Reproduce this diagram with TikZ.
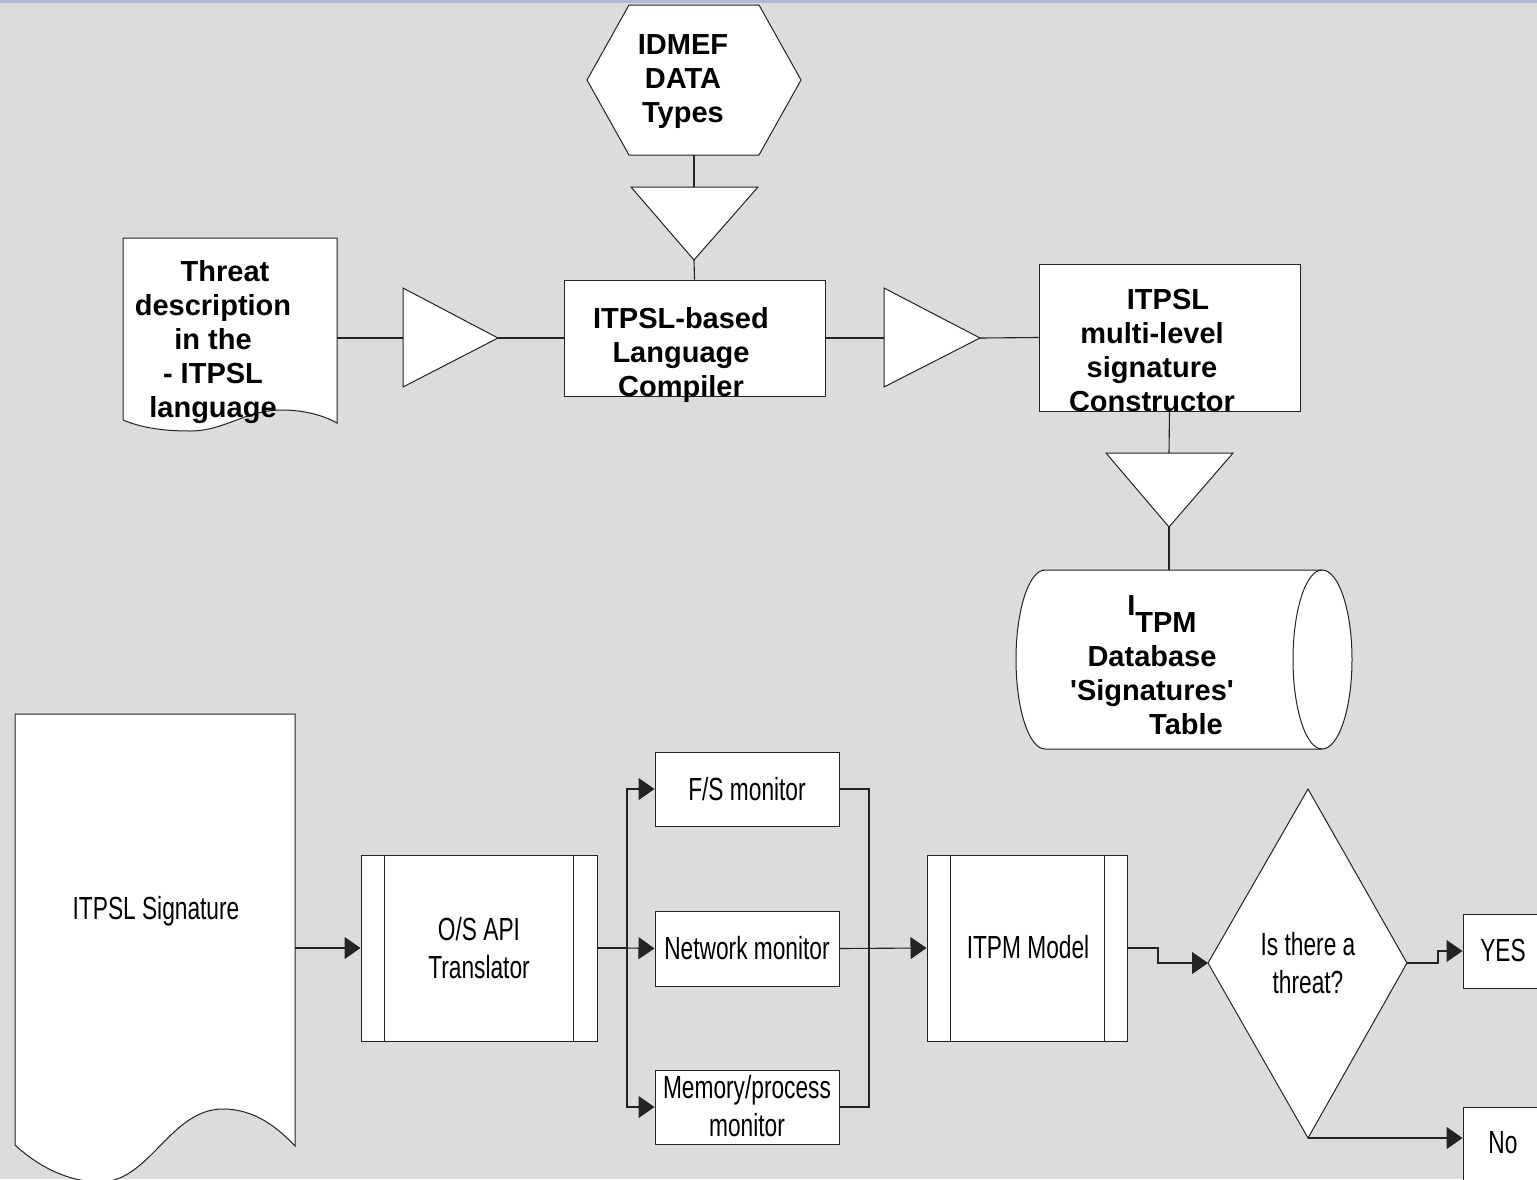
\documentclass[tikz,border=0pt]{standalone}
\usepackage{fontspec}
\setmainfont{Liberation Sans}
\newfontfamily\narrowfont[FakeStretch=0.71]{Liberation Sans}
\usetikzlibrary{arrows.meta,fit}

\definecolor{bgcol}{RGB}{220,220,220}
\definecolor{stripcol}{RGB}{180,184,212}
\definecolor{ink}{RGB}{35,35,35}

\begin{document}
\begin{tikzpicture}[x=0.5pt,y=-0.5pt,
  conn/.style={draw=ink, line width=0.55pt},
  flow/.style={conn, -{Triangle[length=8pt,width=11pt]}},
  shapeline/.style={fill=white, draw=ink, line width=0.5pt},
  box/.style={shapeline, rectangle, inner sep=0pt},
  boldtxt/.style={font=\fontsize{14.5pt}{17pt}\selectfont\bfseries, align=center, inner sep=0pt},
  narrowtxt/.style={font=\narrowfont\fontsize{16pt}{19pt}\selectfont, align=center, inner sep=0pt},
]
\clip (0,0) rectangle (1537,1179);
\fill[bgcol] (0,0) rectangle (1537,1179);
\fill[stripcol] (0,0) rectangle (1537,2.5);

% ---------- upper part: signature compilation ----------
% data types (hexagon)
\path[shapeline] (629,5) -- (759,5) -- (801,80) -- (759,155) -- (629,155) -- (587,80) -- cycle;
\coordinate (hexS) at (694,155);

% merge triangles
\path[shapeline] (631,187) -- (758,187) -- (694,260) -- cycle;
\coordinate (t1N) at (694,187);
\coordinate (t1S) at (694,260);
\path[shapeline] (403,288) -- (498,338) -- (403,387) -- cycle;
\coordinate (t2W) at (403,338);
\coordinate (t2E) at (498,338);
\path[shapeline] (884,288) -- (980,338) -- (884,387) -- cycle;
\coordinate (t3W) at (884,338);
\coordinate (t3E) at (980,338);
\path[shapeline] (1106,453) -- (1233,453) -- (1169,527) -- cycle;
\coordinate (t4N) at (1169,453);
\coordinate (t4S) at (1169,527);

% threat description document
\path[shapeline] (123,238) -- (337,238) -- (337,423)
  .. controls (325,416) and (305,410) .. (282,410)
  .. controls (245,410) and (225,431) .. (190,431)
  .. controls (160,431) and (140,427) .. (123,420) -- cycle;
\coordinate (docR) at (337,338);

% compiler and constructor
\node[box, fit={(564,280) (825,396)}] (comp) {};
\node[box, fit={(1039,264) (1300,411)}] (cons) {};

% signatures table (stored data)
\path[shapeline] (1045,570) -- (1322,570)
  arc[start angle=-90, end angle=90, x radius=30, y radius=89.5]
  -- (1045,749)
  arc[start angle=90, end angle=270, x radius=29, y radius=89.5] -- cycle;
\draw[draw=ink, line width=0.5pt] (1322,570)
  arc[start angle=-90, end angle=-270, x radius=29, y radius=89.5];
\coordinate (dbN) at (1169,570);

% upper connectors
\draw[conn] (hexS) -- (t1N);
\draw[conn] (t1S) -- (comp.north);
\draw[conn] (docR) -- (t2W);
\draw[conn] (t2E) -- (comp.west);
\draw[conn] (comp.east) -- (t3W);
\draw[conn] (t3E) -- (cons.west);
\draw[conn] (cons.south) -- (t4N);
\draw[conn] (t4S) -- (dbN);

% upper labels
\node[boldtxt, anchor=north] (hexlbl) at (683,34) {IDMEF\\DATA\\Types};
\node[boldtxt, anchor=north] (doclbl) at (213,260) {\hspace*{12pt}Threat\\description\\in the\hspace*{7pt}\\- ITPSL\\language};
\node[boldtxt, anchor=north] (complbl) at (681,307) {ITPSL-based\\Language\\Compiler};
\node[boldtxt, anchor=north] (conslbl) at (1152,289) {\hspace*{16pt}ITPSL\\multi-level\\signature\\Constructor};
\node[boldtxt, anchor=north] (dblbl) at (1152,595) {\hspace*{10pt}\raisebox{8.5pt}{I}TPM\\Database\\\textquotesingle Signatures\textquotesingle\\\hspace*{34pt}Table};

% ---------- lower part: monitoring flow ----------
% signature document
\path[shapeline] (15,714) -- (295,714) -- (295,1146)
  .. controls (278,1128) and (255,1109) .. (223,1109)
  .. controls (170,1109) and (150,1182) .. (100,1182)
  .. controls (70,1182) and (40,1168) .. (15,1145) -- cycle;
\coordinate (sigR) at (295,948);
\node[narrowtxt] (siglbl) at (156,911) {ITPSL Signature};

% O/S API translator (predefined process)
\node[box, fit={(361,855) (597,1041)}] (os) {};
\draw[draw=ink, line width=0.5pt] ([xshift=12pt]os.north west) -- ([xshift=12pt]os.south west);
\draw[draw=ink, line width=0.5pt] ([xshift=-12pt]os.north east) -- ([xshift=-12pt]os.south east);
\node[narrowtxt] (oslbl) at (479,948) {O/S API\\Translator};

% monitors
\node[box, fit={(655,752) (839,826)}] (fs) {};
\node[narrowtxt] (fslbl) at (fs.center) {F/S monitor};
\node[box, fit={(655,911) (839,986)}] (net) {};
\node[narrowtxt] (netlbl) at (net.center) {Network monitor};
\node[box, fit={(655,1070) (839,1144)}] (mem) {};
\node[narrowtxt] (memlbl) at (747,1106) {Memory/process\\monitor};

% ITPM model (predefined process)
\node[box, fit={(927,855) (1127,1041)}] (itpm) {};
\draw[draw=ink, line width=0.5pt] ([xshift=12pt]itpm.north west) -- ([xshift=12pt]itpm.south west);
\draw[draw=ink, line width=0.5pt] ([xshift=-11.5pt]itpm.north east) -- ([xshift=-11.5pt]itpm.south east);
\node[narrowtxt] (itpmlbl) at (1028,947) {ITPM Model};

% decision
\path[shapeline] (1308,789) -- (1407,963) -- (1308,1138) -- (1208,963) -- cycle;
\coordinate (dW) at (1208,963);
\coordinate (dE) at (1407,963);
\coordinate (dS) at (1308,1138);
\node[narrowtxt] (dlbl) at (1308,963) {Is there a\\threat?};

% outcomes
\node[box, fit={(1463,914) (1545,988)}] (yes) {};
\node[narrowtxt] (yeslbl) at (1503,950) {YES};
\node[box, fit={(1463,1107) (1545,1190)}] (no) {};
\node[narrowtxt] (nolbl) at (1503,1143) {No};

% lower connectors
\coordinate (split) at (627,948);
\coordinate (join) at (869,948);
\coordinate (k1) at (1158,948);
\coordinate (k2) at (1438,963);
\draw[flow] (sigR) -- (os.west);
\draw[conn] (os.east) -- (split);
\draw[flow] (split) -- (net.west);
\draw[flow] (split) |- (fs.west);
\draw[flow] (split) |- (mem.west);
\draw[conn] (fs.east) -| (join);
\draw[conn] (mem.east) -| (join);
\draw[flow] (net.east) -- (itpm.west);
\draw[flow] (itpm.east) -- (k1) |- (dW);
\draw[flow] (dE) -- (k2) |- (yes.west);
\draw[flow] (dS) -- (dS -| no.west);
\end{tikzpicture}
\end{document}
